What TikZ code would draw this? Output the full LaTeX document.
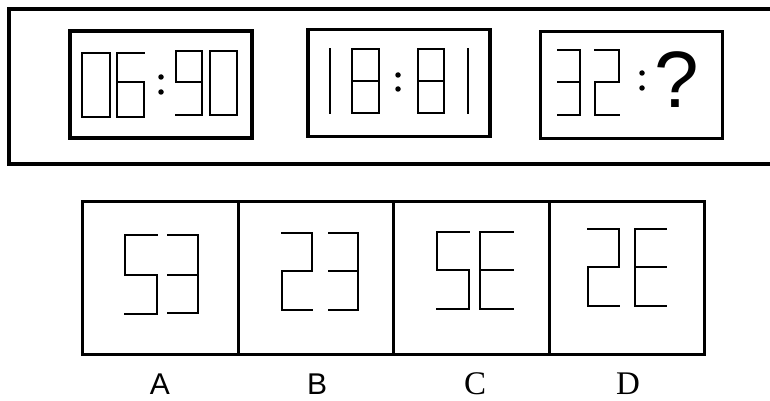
\documentclass[tikz,border=0pt]{standalone}
\usepackage{fontspec}
\newfontfamily\labelsans{Liberation Sans}
\newfontfamily\labelserif{Liberation Serif}

\tikzset{
  frame/.style={draw, line width=3.2pt, minimum width=768pt, minimum height=155pt, inner sep=0pt},
  clockbox/.style={draw, line width=3.2pt, minimum width=182pt, minimum height=107pt, inner sep=0pt},
  optbox/.style={draw, line width=3pt, minimum width=155.5pt, minimum height=153pt, inner sep=0pt},
  segline/.style={line width=2.8pt, line cap=rect},
  colondot/.style={circle, fill, inner sep=0pt, minimum size=5.5pt},
  optlabel/.style={anchor=base, inner sep=0pt},
}

% one digit: left, right, top, middle, bottom, segments
\newcommand{\segdigit}[6]{%
  \foreach \s in {#6}{%
    \if a\s \draw[segline] (#1,#3) -- (#2,#3); \fi
    \if b\s \draw[segline] (#2,#3) -- (#2,#4); \fi
    \if c\s \draw[segline] (#2,#4) -- (#2,#5); \fi
    \if d\s \draw[segline] (#1,#5) -- (#2,#5); \fi
    \if e\s \draw[segline] (#1,#4) -- (#1,#5); \fi
    \if f\s \draw[segline] (#1,#3) -- (#1,#4); \fi
    \if g\s \draw[segline] (#1,#4) -- (#2,#4); \fi
  }}

\begin{document}
\begin{tikzpicture}[x=1pt, y=-1pt]
        \useasboundingbox (0,0) rectangle (770,401);

        % Top frame
        \node[frame] (frame) at (393,86.5) {};

        % Left clock
        \node[clockbox] (clock1) at (161,84.5) {};
        \segdigit{82}{110}{53}{82}{117}{a,b,c,d,e,f}
        \segdigit{117}{144}{53}{82}{117}{a,f,g,e,c,d}
        \node[colondot] (c1u) at (161,77) {};
        \node[colondot] (c1l) at (161,92) {};
        \segdigit{176}{202}{51}{82}{115}{a,b,f,g,c,d}
        \segdigit{210}{237}{51}{82}{115}{a,b,c,d,e,f}

        % Middle clock
        \node[clockbox] (clock2) at (399,83) {};
        \segdigit{330}{330}{49}{81}{113}{b,c}
        \segdigit{352}{379}{49}{81}{113}{a,b,c,d,e,f,g}
        \node[colondot] (c2u) at (398,75) {};
        \node[colondot] (c2l) at (398,89) {};
        \segdigit{418}{444}{49}{81}{113}{a,b,c,d,e,f,g}
        \segdigit{468}{468}{49}{81}{113}{b,c}

        % Right clock
        \node[clockbox] (clock3) at (631.5,85) {};
        \segdigit{558}{580}{50}{82}{115}{a,b,g,c,d}
        \segdigit{595}{619}{50}{82}{115}{a,b,g,e,d}
        \node[colondot] (c3u) at (642,73) {};
        \node[colondot] (c3l) at (642,88) {};
        \node[optlabel, font=\labelsans\fontsize{80}{80}\selectfont] (qmark) at (677,108) {?};

        % Options
        \node[optbox] (optA) at (160.5,277.5) {};
        \node[optbox] (optB) at (316,277.5) {};
        \node[optbox] (optC) at (471.5,277.5) {};
        \node[optbox] (optD) at (627,277.5) {};

        % A: 53
        \segdigit{125}{157}{235}{275}{314}{a,f,g,c,d}
        \segdigit{168}{198}{235}{275}{313}{a,b,g,c,d}
        % B: 23
        \segdigit{282}{312}{233}{271}{310}{a,b,g,e,d}
        \segdigit{329}{358}{233}{271}{310}{a,b,g,c,d}
        % C: 5E
        \segdigit{437}{469}{232}{270}{309}{a,f,g,c,d}
        \segdigit{480}{513}{232}{270}{309}{a,f,g,e,d}
        % D: 2E
        \segdigit{588}{619}{229}{267}{306}{a,b,g,e,d}
        \segdigit{635}{666}{229}{267}{306}{a,f,g,e,d}

        % Labels
        \node[optlabel, font=\labelsans\fontsize{30}{30}\selectfont] (labA) at (160,394) {A};
        \node[optlabel, font=\labelsans\fontsize{30}{30}\selectfont] (labB) at (317,394) {B};
        \node[optlabel, font=\labelserif\fontsize{33}{33}\selectfont] (labC) at (475,394) {C};
        \node[optlabel, font=\labelserif\fontsize{33}{33}\selectfont] (labD) at (628,394) {D};

\end{tikzpicture}
\end{document}
